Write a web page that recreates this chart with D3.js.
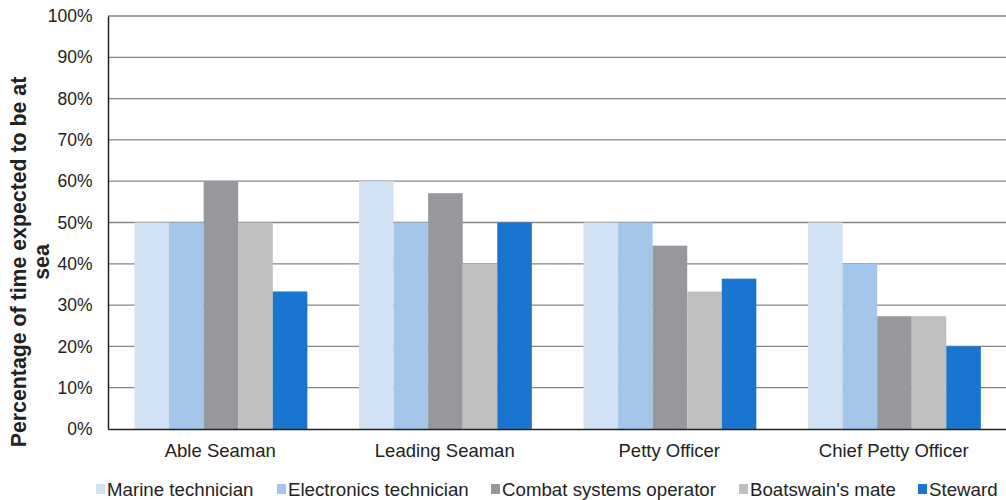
<!DOCTYPE html>
<html><head><meta charset="utf-8">
<script src="https://cdn.jsdelivr.net/npm/d3@7"></script>
<style>body{margin:0;background:#fff;} svg{display:block;font-family:"Liberation Sans",Arial,sans-serif;}</style>
</head><body>
<svg id="c" width="1006" height="500"></svg>
<script>
const categories = ["Able Seaman", "Leading Seaman", "Petty Officer", "Chief Petty Officer"];
const seriesNames = ["Marine technician", "Electronics technician", "Combat systems operator", "Boatswain's mate", "Steward"];
const marineTech = [50, 60, 50, 50];
const electronicsTech = [50, 50, 50, 40];
const combatOp = [60, 57.1, 44.4, 27.3];
const boatswain = [50, 40, 33.3, 27.3];
const steward = [33.3, 50, 36.4, 20];
const yTicks = [0, 10, 20, 30, 40, 50, 60, 70, 80, 90, 100];
const colors = ["#d1e2f4", "#a3c6ea", "#97989c", "#bebfc1", "#1a75d0"];
const seriesValues = [marineTech, electronicsTech, combatOp, boatswain, steward];

const svg = d3.select("#c");
const L = 108, R = 1006, T = 16, B = 429;
const x0 = d3.scaleBand().domain(categories).range([L, R]).padding(0);
const bw = x0.bandwidth();
const x1 = d3.scaleBand().domain(seriesNames).range([bw * 0.118, bw * 0.888]).padding(0);
const y = d3.scaleLinear().domain([0, 100]).range([B, T]);

// gridlines
svg.append("g").selectAll("line").data(yTicks.filter(d => d > 0)).join("line")
  .attr("x1", L).attr("x2", R).attr("y1", d => y(d)).attr("y2", d => y(d))
  .attr("stroke", "#858585").attr("stroke-width", 1.3);

// bars
const g = svg.append("g");
categories.forEach((c, ci) => {
  seriesNames.forEach((s, si) => {
    const v = seriesValues[si][ci];
    g.append("rect")
      .attr("x", x0(c) + x1(s))
      .attr("y", y(v))
      .attr("width", x1.bandwidth())
      .attr("height", y(0) - y(v))
      .attr("fill", colors[si]);
  });
});

// axes
const yAxis = d3.axisLeft(y).tickValues(yTicks).tickFormat(d => d + "%").tickSize(0).tickPadding(15.5);
const ya = svg.append("g").attr("transform", `translate(${L},0)`).call(yAxis);
ya.select(".domain").attr("stroke", "#222").attr("stroke-width", 1.5);
ya.selectAll("text").attr("font-size", 17.5).attr("fill", "#222").attr("font-family", "Liberation Sans, Arial, sans-serif");

const xAxis = d3.axisBottom(x0).tickSize(0).tickPadding(15);
const xa = svg.append("g").attr("transform", `translate(0,${B})`).call(xAxis);
xa.select(".domain").attr("stroke", "#222").attr("stroke-width", 1.5);
xa.selectAll("text").attr("font-size", 18.5).attr("fill", "#222").attr("font-family", "Liberation Sans, Arial, sans-serif");

// y title
const yt = svg.append("text").attr("transform", "translate(26,262) rotate(-90)")
  .attr("text-anchor", "middle").attr("font-weight", "bold").attr("font-size", 21.3).attr("fill", "#222");
yt.append("tspan").attr("x", 0).attr("dy", 0).text("Percentage of time expected to be at");
yt.append("tspan").attr("x", 0).attr("dy", 23).text("sea");

// legend
const legX = [96, 277, 491, 739, 918];
const lg = svg.append("g");
seriesNames.forEach((s, i) => {
  lg.append("rect").attr("x", legX[i]).attr("y", 484).attr("width", 9).attr("height", 10).attr("fill", colors[i]);
  lg.append("text").attr("x", legX[i] + 11).attr("y", 496).attr("font-size", 18.7).attr("fill", "#222").text(s);
});
</script>
</body></html>
